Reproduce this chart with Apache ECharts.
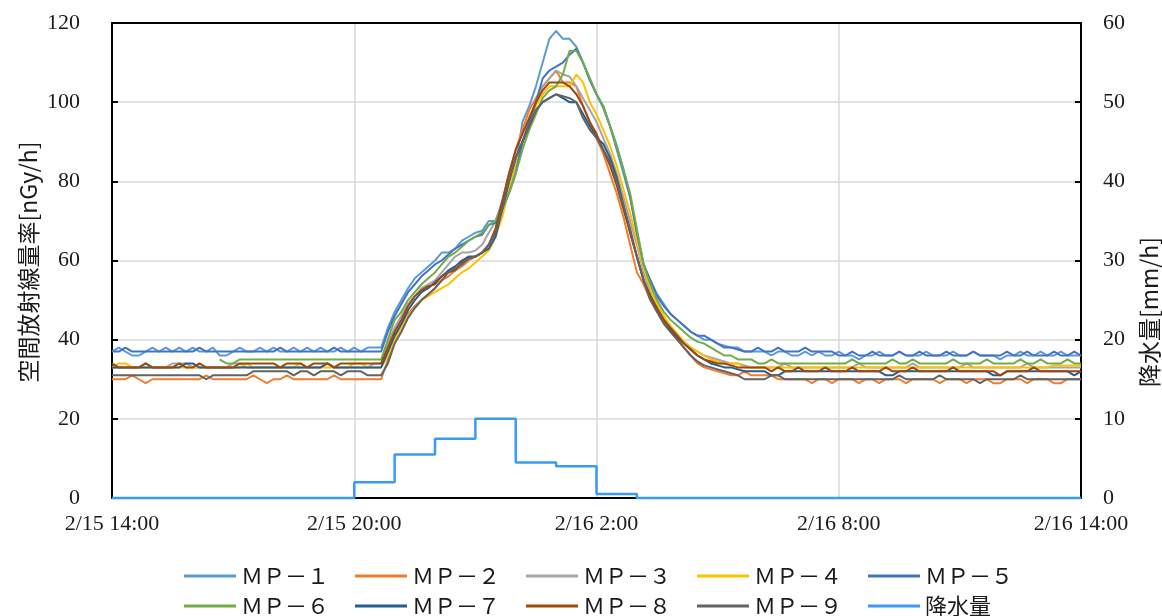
<!DOCTYPE html>
<html>
<head>
<meta charset="utf-8">
<script src="https://cdn.jsdelivr.net/npm/echarts@6/dist/echarts.min.js"></script>
<style>
  html, body { margin: 0; padding: 0; background: #ffffff; }
  #chart { width: 1162px; height: 616px; }
</style>
</head>
<body>
<div id="chart"></div>
<script>
// Air dose rate at monitoring posts (nGy/h), one reading every 10 minutes
// from 2/15 14:00 to 2/16 14:00, plus hourly precipitation (mm/h).
const STEP_MIN = 10;

const seriesNames = ['ＭＰ－１', 'ＭＰ－２', 'ＭＰ－３', 'ＭＰ－４', 'ＭＰ－５',
                     'ＭＰ－６', 'ＭＰ－７', 'ＭＰ－８', 'ＭＰ－９'];
const rainName = '降水量';

const xTickLabels = ['2/15 14:00', '2/15 20:00', '2/16 2:00', '2/16 8:00', '2/16 14:00'];

const MP1 = [
  37,38,37,36,36,37,38,37,38,37, 38,37,38,37,37,38,36,36,37,38, 37,37,38,37,38,37,37,38,37,38, 37,38,37,37,38,37,38,37,38,38,
  38,43,47,50,53,55.5,57,58.5,60,62, 62,63,65,66,67,67.5,70,70,75,79, 84,95,99,104,110,116,118,116,116,114, 110,
  106,102,98.5,94,88,82,76,67,59,55, 51.5,49,46.5,45,43.5,42,41,40,40,39, 38.5,38,38,37,37,
  37,37,36,37,37,36,36,37,36,37, 36,36,37,36,36,35,36,36,37,36, 36,37,36,36,36,37,36,36,36,37, 36,36,37,36,36,36,35,36,36,37, 36,36,37,36,36,37,36,36,36
];
const MP2 = [
  30,30,30,31,30,29,30,30,30,30, 30,30,30,30,31,30,30,30,30,30, 30,31,30,29,30,30,31,30,30,30, 30,30,30,31,30,30,30,30,30,30,
  30,35,40,43.5,46.5,48.5,50,51.5,53,55, 56,57.5,58.5,60,61,62,64,68,75,82, 88,93,98,101,104,106,108,105,105,104, 99,
  95,91,87,82,77,71,64,57,54,50, 47.5,44.5,42,40,38,36,34,33,32.5,32, 31.5,31,31,32,31,
  31,31,31,30,30,30,30,30,29,30, 30,29,30,30,30,29,30,30,29,30, 30,30,29,30,30,30,30,29,30,30, 30,29,30,30,30,29,29,30,30,30, 29,30,30,30,29,29,30,30,30
];
const MP3 = [
  33,33,33,33,33,34,33,33,33,34, 34,34,33,33,33,33,33,33,34,34, 33,33,33,33,33,33,33,33,33,33, 33,33,34,33,33,33,33,33,33,34,
  34,39,43,46,49,51,53,54,55,57, 59,61,62,62,62.5,64,67,70,74,78, 84,90,95,100,104,106,108,107,106.5,104, 101,
  98,95,91,87,82,76,70,64,57,52, 48,45,43,41,39.5,38,37,36,35.5,35, 34.5,34,34,33.5,33,
  33,33,33,33,34,33,33,33,33,33, 33,33,33,33,33,34,33,33,33,33, 33,33,33,34,33,33,33,33,33,33, 33,34,33,33,33,33,33,33,33,33, 34,33,33,33,33,33,33,33,33
];
const MP4 = [
  33,34,34,33,33,33,33,33,33,33, 33,33,33,33,33,33,33,33,33,33, 34,33,33,33,33,33,33,33,34,33, 33,33,33,33,33,33,34,34,33,33,
  33,36,40,43,46,48,50,51,52,53, 54,55.5,57,58,59.5,61,62.5,66,71,78, 85,90,95,99,102,104,104,104,104,107, 105,
  100,97,93,89,84,78,72,65,58,53, 49,46,43.5,41.5,39.5,38,37,36,35,34.5, 34,34,34,33,33,
  33,33,33,33,33,33,33,33,33,33, 33,33,33,33,33,33,33,33,33,33, 33,33,33,33,33,33,33,33,33,33, 33,33,33,33,33,33,33,33,33,33, 33,33,33,33,33.5,33.5,33.5,33.5,33.5
];
const MP5 = [
  37,37,38,37,37,37,37,37,37,37, 37,37,37,38,37,37,37,37,37,37, 37,37,37,37,37,38,37,37,37,37, 37,37,37,38,37,37,37,37,37,37,
  37,42,46,49,52,54,56,57.5,59,60, 61.5,63,64,65,66,66.5,69,69.5,73,77, 82,90,95,100,106,108,109,110,112,113.5, 110,
  105.5,102,99,94,89,83,76,67,59,55, 51,48.5,46.5,45,43.5,42,41,41,40,39, 38,38,37.5,37,37,
  38,37,37,38,37,37,37,38,37,37,37,37, 36,36,37,36,36,37,36,36,36,37, 36,36,37,36,36,36,37,36,36,36, 37,36,36,36,36,37,36,36,37,36, 36,36,37,36,36,37,36
];
const MP6 = [
  null,null,null,null,null,null,null,null,null,null, null,null,null,null,null,null,
  35,34,34,35,35,35,35,35,35,35, 35,35,35,35,35,35,35,35,35,35, 35,35,35,35,
  35,40,45,47,50,52,54,55.5,57,59, 61,62,63.5,65,66,67,69,70,73,77, 82,88,93,97,101,103,104,107,113,113, 110,
  106,102,99,94,89,83,77,68,59,54, 50,47,45,43.5,42,40.5,39.5,39,38,37, 36,36,35,35,35,
  34,34,35,34,34,34,34,34,34,34, 34,34,34,34,35,34,34,34,34,34, 35,34,34,35,34,34,34,34,34,35, 34,34,34,34,35,34,34,34,34,35, 34,34,35,34,34,34,35,34,34
];
const MP7 = [
  33,33,33,33,33,33,33,33,33,33, 33,34,34,33,33,33,33,33,33,33, 33,33,33,33,33,33,33,33,33,33, 33,33,34,33,33,33,33,33,33,33,
  33,37,41,44,47.5,50,52,53,54.5,56, 57.5,58.5,60,61,61,62,63,66,73,80, 86,90,94,98,100,101,102,101,100,100, 97,
  94,91,89.5,86,81,74,67,61,55,51, 47.5,45,42.5,40.5,39,37.5,36,35,34,33.5, 33,33,32.5,32,32,
  32,32,31,31,32,32,32,32,32,32, 32,32,32,32,32,32,32,32,32,31, 31,32,32,32,32,32,32,32,32,32, 32,32,32,32,32,31,31,32,32,32, 32,32,32,32,32,32,32,31,32
];
const MP8 = [
  34,33,33,33,33,34,33,33,33,33, 34,33,33,34,33,33,33,33,33,34, 34,34,34,34,34,33,34,34,34,33, 34,34,34,33,34,34,34,34,34,34,
  34,38,42,45,48.5,51,52.5,53.5,54,56, 57,57.5,59.5,60.5,61,62,64,68,75,82, 88,92,96,100,103,105,105,105,104,102, 99,
  95,92,88,84,79,73,67,61,55,51, 48,45,43,41,39,37.5,36,35,34.5,34, 34,33.5,33,33,33,
  33,33,32,33,32,32,33,32,32,32, 33,32,32,32,33,32,32,32,32,33, 32,32,32,33,32,32,32,32,32,33, 32,32,32,32,32,32,31,32,32,32, 32,33,32,32,32,32,32,32,32
];
const MP9 = [
  31,31,31,31,31,31,31,31,31,31, 31,31,31,31,30,31,31,31,31,31, 31,32,32,32,32,32,32,31,32,32, 31,32,32,32,31,32,32,32,31,31,
  31,34,39,42,45.5,48,50,51.5,53,55, 57,58,59,60.5,61,62,64,67,73,80, 86,90,94,98,100,101,102,101.5,101,100, 96,
  93,91,88,85,80,74,68,61,55,50, 47,44,42,40,38,36,34.5,33.5,33,32.5, 32,31.5,31,30,30,
  30,30,31,31,30,30,30,30,30,30, 30,30,30,30,30,30,30,30,30,30, 30,31,30,30,30,30,30,31,30,30, 30,30,30,29,30,30,30,30,30,31, 30,30,30,30,30,30,30,30,30
];

// Precipitation per hour, starting at 2/15 14:00 (value holds for the following hour)
const rainHourly = [0,0,0,0,0,0, 2,5.5,7.5,10,4.5,4,0.5, 0,0,0,0,0,0,0,0,0,0,0, 0];

const doseSeries = [MP1, MP2, MP3, MP4, MP5, MP6, MP7, MP8, MP9];
const lineColors = ['#5B9BD5', '#ED7D31', '#A5A5A5', '#FFC000', '#4472C4',
                    '#70AD47', '#255E91', '#9E480E', '#636363'];
const rainColor = '#3A9AF5';

const toPoints = arr => arr
  .map((v, i) => [i * STEP_MIN, v])
  .filter(p => p[1] !== null);

const labelFont = 'Liberation Serif';
const cjkFont = 'Noto Sans CJK JP';
const textColor = '#1a1a1a';

const series = doseSeries.map((arr, k) => ({
  name: seriesNames[k],
  type: 'line',
  data: toPoints(arr),
  showSymbol: false,
  symbol: 'none',
  color: lineColors[k],
  lineStyle: { width: 2, color: lineColors[k] },
  yAxisIndex: 0
}));

series.push({
  name: rainName,
  type: 'line',
  yAxisIndex: 1,
  step: 'end',
  showSymbol: false,
  symbol: 'none',
  clip: false,
  color: rainColor,
  lineStyle: { width: 2.5, color: rainColor },
  data: rainHourly.map((v, h) => [h * 60, v])
});

const legendBase = {
  left: 179,
  icon: 'rect',
  itemWidth: 52,
  itemHeight: 3,
  itemGap: 26,
  textStyle: { fontFamily: cjkFont, fontSize: 22, color: textColor }
};

const frameLine = { show: true, onZero: false, lineStyle: { color: '#000', width: 2 } };
const gridLine = {
  show: true, showMinLine: false, showMaxLine: false,
  lineStyle: { color: '#d9d9d9', width: 1.5 }
};
// ticks point into the plot area
const insideTick = { show: true, inside: false, length: -6, lineStyle: { color: '#000', width: 2 } };

const chart = echarts.init(document.getElementById('chart'), null, { renderer: 'canvas' });

chart.setOption({
  animation: false,
  backgroundColor: '#ffffff',
  grid: { left: 112, right: 81, top: 23, bottom: 118 },
  legend: [
    Object.assign({}, legendBase, { top: 560, data: seriesNames.slice(0, 5) }),
    Object.assign({}, legendBase, { top: 590, data: seriesNames.slice(5).concat([rainName]) })
  ],
  xAxis: [
    {
      type: 'value',
      min: 0, max: 1440, interval: 360,
      axisLine: frameLine,
      axisTick: { show: false },
      splitLine: gridLine,
      axisLabel: {
        showMinLabel: true, showMaxLabel: true,
        formatter: v => xTickLabels[Math.round(v / 360)],
        fontFamily: labelFont, fontSize: 22, color: textColor, margin: 15
      }
    },
    {
      // top edge of the plot frame
      type: 'value', position: 'top',
      min: 0, max: 1440, interval: 360,
      axisLine: frameLine,
      axisTick: { show: false },
      axisLabel: { show: false },
      splitLine: { show: false }
    }
  ],
  yAxis: [
    {
      type: 'value', position: 'left',
      min: 0, max: 120, interval: 20,
      axisLine: frameLine,
      axisTick: insideTick,
      splitLine: gridLine,
      axisLabel: { fontFamily: labelFont, fontSize: 22, color: textColor, margin: 32 }
    },
    {
      type: 'value', position: 'right',
      min: 0, max: 60, interval: 10,
      axisLine: frameLine,
      axisTick: insideTick,
      splitLine: { show: false },
      axisLabel: { fontFamily: labelFont, fontSize: 22, color: textColor, margin: 22 }
    }
  ],
  graphic: [
    {
      type: 'text', x: 28, y: 262, rotation: Math.PI / 2,
      style: {
        text: '空間放射線量率[nGy/h]', fontFamily: cjkFont, fontSize: 23,
        fill: textColor, align: 'center', verticalAlign: 'middle'
      }
    },
    {
      type: 'text', x: 1149, y: 312, rotation: Math.PI / 2,
      style: {
        text: '降水量[mm/h]', fontFamily: cjkFont, fontSize: 23,
        fill: textColor, align: 'center', verticalAlign: 'middle'
      }
    }
  ],
  series: series
});
</script>
</body>
</html>
